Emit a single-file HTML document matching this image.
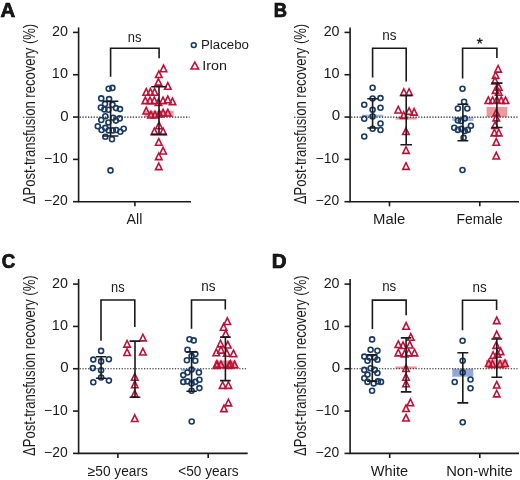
<!DOCTYPE html><html><head><meta charset="utf-8"><style>html,body{margin:0;padding:0;background:#fff;}svg{display:block;will-change:transform;}text{font-family:"Liberation Sans", sans-serif;fill:#1a1a1a;}</style></head><body>
<svg width="520" height="480" viewBox="0 0 520 480">
<rect width="520" height="480" fill="#fff"/>
<rect x="144.50" y="110.80" width="29.00" height="6.25" fill="#ec9a9c"/>
<line x1="79.60" y1="117.05" x2="189.50" y2="117.05" stroke="#222" stroke-width="1.2" stroke-dasharray="1.3 1.5"/>
<g fill="none" stroke="#183a62" stroke-width="1.6">
<circle cx="108.70" cy="88.75" r="2.5"/>
<circle cx="112.40" cy="87.90" r="2.5"/>
<circle cx="101.25" cy="98.40" r="2.5"/>
<circle cx="109.10" cy="99.10" r="2.5"/>
<circle cx="105.00" cy="104.00" r="2.5"/>
<circle cx="112.50" cy="104.70" r="2.5"/>
<circle cx="100.90" cy="107.50" r="2.5"/>
<circle cx="104.40" cy="109.40" r="2.5"/>
<circle cx="108.40" cy="109.70" r="2.5"/>
<circle cx="115.90" cy="108.10" r="2.5"/>
<circle cx="120.00" cy="109.10" r="2.5"/>
<circle cx="105.30" cy="116.25" r="2.5"/>
<circle cx="101.25" cy="120.00" r="2.5"/>
<circle cx="108.40" cy="122.50" r="2.5"/>
<circle cx="113.10" cy="117.80" r="2.5"/>
<circle cx="115.90" cy="120.60" r="2.5"/>
<circle cx="119.70" cy="118.40" r="2.5"/>
<circle cx="97.80" cy="126.25" r="2.5"/>
<circle cx="101.60" cy="130.00" r="2.5"/>
<circle cx="105.30" cy="127.90" r="2.5"/>
<circle cx="108.70" cy="130.40" r="2.5"/>
<circle cx="112.80" cy="130.40" r="2.5"/>
<circle cx="116.20" cy="130.00" r="2.5"/>
<circle cx="120.30" cy="131.70" r="2.5"/>
<circle cx="123.70" cy="128.75" r="2.5"/>
<circle cx="105.30" cy="136.70" r="2.5"/>
<circle cx="112.00" cy="139.20" r="2.5"/>
<circle cx="110.50" cy="170.40" r="2.5"/>
</g>
<g fill="none" stroke="#bb1138" stroke-width="1.6">
<path d="M163.50 65.15L166.75 71.75L160.25 71.75Z"/>
<path d="M158.80 70.95L162.05 77.55L155.55 77.55Z"/>
<path d="M158.40 78.55L161.65 85.15L155.15 85.15Z"/>
<path d="M167.80 82.65L171.05 89.25L164.55 89.25Z"/>
<path d="M146.25 88.65L149.50 95.25L143.00 95.25Z"/>
<path d="M150.40 88.65L153.65 95.25L147.15 95.25Z"/>
<path d="M154.60 88.65L157.85 95.25L151.35 95.25Z"/>
<path d="M145.30 97.05L148.55 103.65L142.05 103.65Z"/>
<path d="M150.00 97.05L153.25 103.65L146.75 103.65Z"/>
<path d="M154.30 97.05L157.55 103.65L151.05 103.65Z"/>
<path d="M158.40 98.95L161.65 105.55L155.15 105.55Z"/>
<path d="M163.00 97.05L166.25 103.65L159.75 103.65Z"/>
<path d="M167.80 96.15L171.05 102.75L164.55 102.75Z"/>
<path d="M172.50 98.05L175.75 104.65L169.25 104.65Z"/>
<path d="M146.25 107.35L149.50 113.95L143.00 113.95Z"/>
<path d="M151.00 111.35L154.25 117.95L147.75 117.95Z"/>
<path d="M155.00 111.35L158.25 117.95L151.75 117.95Z"/>
<path d="M159.40 110.35L162.65 116.95L156.15 116.95Z"/>
<path d="M163.10 109.35L166.35 115.95L159.85 115.95Z"/>
<path d="M167.80 109.35L171.05 115.95L164.55 115.95Z"/>
<path d="M159.00 122.15L162.25 128.75L155.75 128.75Z"/>
<path d="M154.40 128.00L157.65 134.60L151.15 134.60Z"/>
<path d="M163.10 128.00L166.35 134.60L159.85 134.60Z"/>
<path d="M158.75 138.65L162.00 145.25L155.50 145.25Z"/>
<path d="M163.10 147.35L166.35 153.95L159.85 153.95Z"/>
<path d="M158.75 153.00L162.00 159.60L155.50 159.60Z"/>
<path d="M158.75 163.00L162.00 169.60L155.50 169.60Z"/>
</g>
<g stroke="#1a1a1a" stroke-width="1.6" fill="none">
<path d="M110.60 101.30V136.00M102.80 101.30H118.40M102.80 136.00H118.40"/>
<path d="M159.00 86.70V134.40M151.20 86.70H166.80M151.20 134.40H166.80"/>
</g>
<g stroke="#1a1a1a" stroke-width="1.6" fill="none">
<path d="M78.60 27.40V201.70H191.00"/>
<path d="M73.00 32.40H78.60"/>
<path d="M73.00 74.72H78.60"/>
<path d="M73.00 117.05H78.60"/>
<path d="M73.00 159.38H78.60"/>
<path d="M73.00 201.70H78.60"/>
<path d="M134.90 201.70V206.30"/>
<path d="M110.60 76.80V48.30H159.10V58.20"/>
</g>
<rect x="362.00" y="114.60" width="21.20" height="2.45" fill="#a9badd"/>
<rect x="395.70" y="117.05" width="21.00" height="2.55" fill="#ec9a9c"/>
<rect x="452.30" y="117.05" width="21.20" height="3.95" fill="#a9badd"/>
<rect x="486.55" y="106.90" width="20.70" height="10.15" fill="#ec9a9c"/>
<line x1="351.10" y1="117.05" x2="517.50" y2="117.05" stroke="#222" stroke-width="1.2" stroke-dasharray="1.3 1.5"/>
<g fill="none" stroke="#183a62" stroke-width="1.6">
<circle cx="372.60" cy="87.75" r="2.5"/>
<circle cx="372.60" cy="98.50" r="2.5"/>
<circle cx="380.50" cy="98.10" r="2.5"/>
<circle cx="364.25" cy="104.75" r="2.5"/>
<circle cx="372.60" cy="109.75" r="2.5"/>
<circle cx="380.50" cy="107.75" r="2.5"/>
<circle cx="372.60" cy="116.50" r="2.5"/>
<circle cx="364.25" cy="118.75" r="2.5"/>
<circle cx="380.50" cy="123.50" r="2.5"/>
<circle cx="372.60" cy="128.75" r="2.5"/>
<circle cx="380.50" cy="130.00" r="2.5"/>
<circle cx="364.25" cy="136.50" r="2.5"/>
</g>
<g fill="none" stroke="#bb1138" stroke-width="1.6">
<path d="M403.80 88.75L407.05 95.35L400.55 95.35Z"/>
<path d="M409.10 88.75L412.35 95.35L405.85 95.35Z"/>
<path d="M398.25 106.35L401.50 112.95L395.00 112.95Z"/>
<path d="M403.70 111.75L406.95 118.35L400.45 118.35Z"/>
<path d="M409.10 107.75L412.35 114.35L405.85 114.35Z"/>
<path d="M414.10 108.55L417.35 115.15L410.85 115.15Z"/>
<path d="M405.90 127.95L409.15 134.55L402.65 134.55Z"/>
<path d="M406.00 146.75L409.25 153.35L402.75 153.35Z"/>
<path d="M406.00 162.75L409.25 169.35L402.75 169.35Z"/>
</g>
<g fill="none" stroke="#183a62" stroke-width="1.6">
<circle cx="462.50" cy="88.75" r="2.5"/>
<circle cx="464.10" cy="101.80" r="2.5"/>
<circle cx="457.90" cy="108.50" r="2.5"/>
<circle cx="467.30" cy="108.50" r="2.5"/>
<circle cx="457.90" cy="120.50" r="2.5"/>
<circle cx="461.00" cy="121.00" r="2.5"/>
<circle cx="464.70" cy="118.40" r="2.5"/>
<circle cx="454.25" cy="127.80" r="2.5"/>
<circle cx="457.90" cy="129.90" r="2.5"/>
<circle cx="461.50" cy="128.90" r="2.5"/>
<circle cx="464.70" cy="131.00" r="2.5"/>
<circle cx="467.80" cy="129.90" r="2.5"/>
<circle cx="470.90" cy="125.70" r="2.5"/>
<circle cx="463.60" cy="137.70" r="2.5"/>
<circle cx="462.50" cy="170.00" r="2.5"/>
</g>
<g fill="none" stroke="#bb1138" stroke-width="1.6">
<path d="M498.10 65.50L501.35 72.10L494.85 72.10Z"/>
<path d="M495.60 71.75L498.85 78.35L492.35 78.35Z"/>
<path d="M495.00 77.25L498.25 83.85L491.75 83.85Z"/>
<path d="M498.75 83.65L502.00 90.25L495.50 90.25Z"/>
<path d="M495.60 86.75L498.85 93.35L492.35 93.35Z"/>
<path d="M498.75 88.65L502.00 95.25L495.50 95.25Z"/>
<path d="M488.30 96.95L491.55 103.55L485.05 103.55Z"/>
<path d="M492.60 96.95L495.85 103.55L489.35 103.55Z"/>
<path d="M496.90 96.35L500.15 102.95L493.65 102.95Z"/>
<path d="M501.20 96.95L504.45 103.55L497.95 103.55Z"/>
<path d="M505.50 96.95L508.75 103.55L502.25 103.55Z"/>
<path d="M496.25 109.25L499.50 115.85L493.00 115.85Z"/>
<path d="M496.25 114.25L499.50 120.85L493.00 120.85Z"/>
<path d="M495.00 121.75L498.25 128.35L491.75 128.35Z"/>
<path d="M494.40 129.25L497.65 135.85L491.15 135.85Z"/>
<path d="M498.75 129.25L502.00 135.85L495.50 135.85Z"/>
<path d="M496.25 138.65L499.50 145.25L493.00 145.25Z"/>
<path d="M496.25 152.35L499.50 158.95L493.00 158.95Z"/>
</g>
<g stroke="#1a1a1a" stroke-width="1.6" fill="none">
<path d="M372.60 98.75V128.00M367.30 98.75H377.90M367.30 128.00H377.90"/>
<path d="M406.20 95.50V144.80M400.40 95.50H412.00M400.40 144.80H412.00"/>
<path d="M462.90 104.20V140.80M457.45 104.20H468.35M457.45 140.80H468.35"/>
<path d="M496.90 83.10V127.50M491.30 83.10H502.50M491.30 127.50H502.50"/>
</g>
<g stroke="#1a1a1a" stroke-width="1.6" fill="none">
<path d="M350.10 27.40V201.70H519.00"/>
<path d="M344.50 32.40H350.10"/>
<path d="M344.50 74.72H350.10"/>
<path d="M344.50 117.05H350.10"/>
<path d="M344.50 159.38H350.10"/>
<path d="M344.50 201.70H350.10"/>
<path d="M389.50 201.70V206.30"/>
<path d="M479.80 201.70V206.30"/>
<path d="M372.60 77.50V48.30H406.20V81.50"/>
<path d="M462.60 78.50V48.30H496.90V58.10"/>
</g>
<path d="M479.75 40.90L479.75 38.30M479.75 40.90L482.22 40.10M479.75 40.90L481.28 43.00M479.75 40.90L478.22 43.00M479.75 40.90L477.28 40.10" stroke="#1a1a1a" stroke-width="1.25" stroke-linecap="round"/>
<rect x="181.00" y="368.75" width="21.20" height="2.25" fill="#a9badd"/>
<rect x="214.65" y="360.50" width="21.50" height="8.25" fill="#ec9a9c"/>
<line x1="79.60" y1="368.75" x2="246.20" y2="368.75" stroke="#222" stroke-width="1.2" stroke-dasharray="1.3 1.5"/>
<g fill="none" stroke="#183a62" stroke-width="1.6">
<circle cx="101.10" cy="350.90" r="2.5"/>
<circle cx="93.30" cy="359.60" r="2.5"/>
<circle cx="101.10" cy="361.40" r="2.5"/>
<circle cx="108.90" cy="359.30" r="2.5"/>
<circle cx="92.80" cy="368.10" r="2.5"/>
<circle cx="101.10" cy="370.20" r="2.5"/>
<circle cx="101.10" cy="377.50" r="2.5"/>
<circle cx="93.30" cy="382.20" r="2.5"/>
<circle cx="108.90" cy="380.60" r="2.5"/>
</g>
<g fill="none" stroke="#bb1138" stroke-width="1.6">
<path d="M142.90 334.25L146.15 340.85L139.65 340.85Z"/>
<path d="M127.10 340.50L130.35 347.10L123.85 347.10Z"/>
<path d="M127.10 348.85L130.35 355.45L123.85 355.45Z"/>
<path d="M142.90 348.35L146.15 354.95L139.65 354.95Z"/>
<path d="M134.75 373.65L138.00 380.25L131.50 380.25Z"/>
<path d="M134.75 381.15L138.00 387.75L131.50 387.75Z"/>
<path d="M134.75 390.25L138.00 396.85L131.50 396.85Z"/>
<path d="M134.75 414.85L138.00 421.45L131.50 421.45Z"/>
</g>
<g fill="none" stroke="#183a62" stroke-width="1.6">
<circle cx="189.50" cy="339.20" r="2.5"/>
<circle cx="193.70" cy="340.40" r="2.5"/>
<circle cx="187.50" cy="349.80" r="2.5"/>
<circle cx="191.60" cy="356.00" r="2.5"/>
<circle cx="195.30" cy="354.00" r="2.5"/>
<circle cx="186.90" cy="360.20" r="2.5"/>
<circle cx="195.30" cy="360.70" r="2.5"/>
<circle cx="191.60" cy="369.60" r="2.5"/>
<circle cx="187.50" cy="372.50" r="2.5"/>
<circle cx="183.30" cy="375.10" r="2.5"/>
<circle cx="198.90" cy="372.50" r="2.5"/>
<circle cx="183.30" cy="381.90" r="2.5"/>
<circle cx="187.50" cy="381.40" r="2.5"/>
<circle cx="191.60" cy="383.40" r="2.5"/>
<circle cx="195.30" cy="381.90" r="2.5"/>
<circle cx="199.40" cy="379.80" r="2.5"/>
<circle cx="199.40" cy="388.10" r="2.5"/>
<circle cx="191.60" cy="390.70" r="2.5"/>
<circle cx="191.70" cy="421.50" r="2.5"/>
</g>
<g fill="none" stroke="#bb1138" stroke-width="1.6">
<path d="M227.30 317.85L230.55 324.45L224.05 324.45Z"/>
<path d="M223.60 323.65L226.85 330.25L220.35 330.25Z"/>
<path d="M225.70 330.35L228.95 336.95L222.45 336.95Z"/>
<path d="M220.50 340.25L223.75 346.85L217.25 346.85Z"/>
<path d="M227.80 341.35L231.05 347.95L224.55 347.95Z"/>
<path d="M216.30 349.15L219.55 355.75L213.05 355.75Z"/>
<path d="M221.00 346.55L224.25 353.15L217.75 353.15Z"/>
<path d="M226.75 349.65L230.00 356.25L223.50 356.25Z"/>
<path d="M233.50 350.15L236.75 356.75L230.25 356.75Z"/>
<path d="M216.90 360.55L220.15 367.15L213.65 367.15Z"/>
<path d="M221.00 361.15L224.25 367.75L217.75 367.75Z"/>
<path d="M230.40 360.55L233.65 367.15L227.15 367.15Z"/>
<path d="M234.60 361.15L237.85 367.75L231.35 367.75Z"/>
<path d="M216.75 361.75L220.00 368.35L213.50 368.35Z"/>
<path d="M229.10 361.75L232.35 368.35L225.85 368.35Z"/>
<path d="M222.60 381.75L225.85 388.35L219.35 388.35Z"/>
<path d="M228.40 381.75L231.65 388.35L225.15 388.35Z"/>
<path d="M228.40 399.25L231.65 405.85L225.15 405.85Z"/>
<path d="M224.00 405.05L227.25 411.65L220.75 411.65Z"/>
</g>
<g stroke="#1a1a1a" stroke-width="1.6" fill="none">
<path d="M101.10 356.70V378.30M95.90 356.70H106.30M95.90 378.30H106.30"/>
<path d="M135.00 341.10V397.25M129.60 341.10H140.40M129.60 397.25H140.40"/>
<path d="M191.60 351.90V391.25M186.40 351.90H196.80M186.40 391.25H196.80"/>
<path d="M225.40 337.10V380.60M220.10 337.10H230.70M220.10 380.60H230.70"/>
</g>
<g stroke="#1a1a1a" stroke-width="1.6" fill="none">
<path d="M78.60 279.10V453.40H247.70"/>
<path d="M73.00 284.10H78.60"/>
<path d="M73.00 326.43H78.60"/>
<path d="M73.00 368.75H78.60"/>
<path d="M73.00 411.07H78.60"/>
<path d="M73.00 453.40H78.60"/>
<path d="M117.90 453.40V458.00"/>
<path d="M208.20 453.40V458.00"/>
<path d="M101.00 340.80V300.00H134.80V327.00"/>
<path d="M191.50 328.80V300.00H225.30V309.40"/>
</g>
<rect x="395.50" y="366.40" width="21.20" height="2.35" fill="#ec9a9c"/>
<rect x="452.30" y="368.75" width="21.00" height="7.95" fill="#93a8d2"/>
<rect x="486.00" y="359.80" width="21.60" height="8.95" fill="#ec9a9c"/>
<line x1="351.10" y1="368.75" x2="517.50" y2="368.75" stroke="#222" stroke-width="1.2" stroke-dasharray="1.3 1.5"/>
<g fill="none" stroke="#183a62" stroke-width="1.6">
<circle cx="372.10" cy="339.40" r="2.5"/>
<circle cx="370.60" cy="349.80" r="2.5"/>
<circle cx="377.40" cy="350.80" r="2.5"/>
<circle cx="364.30" cy="356.60" r="2.5"/>
<circle cx="369.50" cy="357.60" r="2.5"/>
<circle cx="374.75" cy="357.60" r="2.5"/>
<circle cx="367.50" cy="360.70" r="2.5"/>
<circle cx="377.40" cy="359.70" r="2.5"/>
<circle cx="364.30" cy="369.90" r="2.5"/>
<circle cx="370.60" cy="368.30" r="2.5"/>
<circle cx="374.75" cy="369.90" r="2.5"/>
<circle cx="367.50" cy="374.60" r="2.5"/>
<circle cx="377.40" cy="373.00" r="2.5"/>
<circle cx="364.30" cy="378.20" r="2.5"/>
<circle cx="367.50" cy="381.90" r="2.5"/>
<circle cx="373.70" cy="383.40" r="2.5"/>
<circle cx="377.90" cy="381.40" r="2.5"/>
<circle cx="381.00" cy="381.90" r="2.5"/>
<circle cx="372.10" cy="390.70" r="2.5"/>
</g>
<g fill="none" stroke="#bb1138" stroke-width="1.6">
<path d="M406.10 322.65L409.35 329.25L402.85 329.25Z"/>
<path d="M410.80 333.65L414.05 340.25L407.55 340.25Z"/>
<path d="M398.30 340.95L401.55 347.55L395.05 347.55Z"/>
<path d="M403.00 341.95L406.25 348.55L399.75 348.55Z"/>
<path d="M409.80 341.45L413.05 348.05L406.55 348.05Z"/>
<path d="M398.30 349.25L401.55 355.85L395.05 355.85Z"/>
<path d="M404.60 350.25L407.85 356.85L401.35 356.85Z"/>
<path d="M408.75 349.25L412.00 355.85L405.50 355.85Z"/>
<path d="M414.50 349.25L417.75 355.85L411.25 355.85Z"/>
<path d="M406.00 364.85L409.25 371.45L402.75 371.45Z"/>
<path d="M406.00 373.65L409.25 380.25L402.75 380.25Z"/>
<path d="M406.00 380.15L409.25 386.75L402.75 386.75Z"/>
<path d="M410.40 399.15L413.65 405.75L407.15 405.75Z"/>
<path d="M406.00 404.95L409.25 411.55L402.75 411.55Z"/>
<path d="M406.00 414.45L409.25 421.05L402.75 421.05Z"/>
</g>
<g fill="none" stroke="#183a62" stroke-width="1.6">
<circle cx="462.60" cy="340.70" r="2.5"/>
<circle cx="462.70" cy="360.80" r="2.5"/>
<circle cx="462.70" cy="372.50" r="2.5"/>
<circle cx="454.70" cy="382.00" r="2.5"/>
<circle cx="470.50" cy="379.50" r="2.5"/>
<circle cx="470.50" cy="388.30" r="2.5"/>
<circle cx="462.75" cy="422.25" r="2.5"/>
</g>
<g fill="none" stroke="#bb1138" stroke-width="1.6">
<path d="M496.70 317.05L499.95 323.65L493.45 323.65Z"/>
<path d="M496.70 331.15L499.95 337.75L493.45 337.75Z"/>
<path d="M496.25 341.75L499.50 348.35L493.00 348.35Z"/>
<path d="M500.60 348.00L503.85 354.60L497.35 354.60Z"/>
<path d="M493.10 351.75L496.35 358.35L489.85 358.35Z"/>
<path d="M497.50 350.50L500.75 357.10L494.25 357.10Z"/>
<path d="M488.75 359.85L492.00 366.45L485.50 366.45Z"/>
<path d="M492.50 360.50L495.75 367.10L489.25 367.10Z"/>
<path d="M500.00 360.50L503.25 367.10L496.75 367.10Z"/>
<path d="M505.00 359.85L508.25 366.45L501.75 366.45Z"/>
<path d="M496.70 381.45L499.95 388.05L493.45 388.05Z"/>
<path d="M496.70 390.25L499.95 396.85L493.45 396.85Z"/>
</g>
<g stroke="#1a1a1a" stroke-width="1.6" fill="none">
<path d="M372.30 354.70V381.10M367.10 354.70H377.50M367.10 381.10H377.50"/>
<path d="M406.10 337.90V391.90M400.80 337.90H411.40M400.80 391.90H411.40"/>
<path d="M462.80 352.80V402.90M457.35 352.80H468.25M457.35 402.90H468.25"/>
<path d="M496.80 339.00V377.20M491.40 339.00H502.20M491.40 377.20H502.20"/>
</g>
<g stroke="#1a1a1a" stroke-width="1.6" fill="none">
<path d="M350.10 279.10V453.40H519.00"/>
<path d="M344.50 284.10H350.10"/>
<path d="M344.50 326.43H350.10"/>
<path d="M344.50 368.75H350.10"/>
<path d="M344.50 411.07H350.10"/>
<path d="M344.50 453.40H350.10"/>
<path d="M389.70 453.40V458.00"/>
<path d="M479.80 453.40V458.00"/>
<path d="M372.40 328.90V300.10H406.15V315.20"/>
<path d="M462.50 330.20V300.20H496.60V310.00"/>
</g>
<text x="0.57" y="16.77" font-size="19.50" font-weight="bold" textLength="14.71" lengthAdjust="spacingAndGlyphs" fill="#000" stroke="#000" stroke-width="0.7">A</text>
<text x="273.68" y="16.77" font-size="19.50" font-weight="bold" textLength="13.27" lengthAdjust="spacingAndGlyphs" fill="#000" stroke="#000" stroke-width="0.7">B</text>
<text x="1.80" y="268.45" font-size="19.50" font-weight="bold" textLength="13.48" lengthAdjust="spacingAndGlyphs" fill="#000" stroke="#000" stroke-width="0.7">C</text>
<text x="271.65" y="268.45" font-size="19.50" font-weight="bold" textLength="14.79" lengthAdjust="spacingAndGlyphs" fill="#000" stroke="#000" stroke-width="0.7">D</text>
<text x="52.12" y="36.30" font-size="13.90" textLength="15.92" lengthAdjust="spacingAndGlyphs">20</text>
<text x="51.88" y="78.22" font-size="13.90" textLength="16.02" lengthAdjust="spacingAndGlyphs">10</text>
<text x="60.17" y="121.13" font-size="13.90" textLength="8.38" lengthAdjust="spacingAndGlyphs">0</text>
<text x="44.11" y="163.27" font-size="13.90" textLength="23.61" lengthAdjust="spacingAndGlyphs">−10</text>
<text x="44.11" y="205.20" font-size="13.90" textLength="23.61" lengthAdjust="spacingAndGlyphs">−20</text>
<text transform="translate(34.60,204.22) rotate(-90)" font-size="16.30" textLength="180.44" lengthAdjust="spacingAndGlyphs">ΔPost-transfusion recovery (%)</text>
<text x="323.69" y="36.30" font-size="13.90" textLength="15.85" lengthAdjust="spacingAndGlyphs">20</text>
<text x="323.48" y="78.22" font-size="13.90" textLength="16.03" lengthAdjust="spacingAndGlyphs">10</text>
<text x="331.71" y="120.39" font-size="13.90" textLength="8.41" lengthAdjust="spacingAndGlyphs">0</text>
<text x="315.62" y="163.27" font-size="13.90" textLength="23.51" lengthAdjust="spacingAndGlyphs">−10</text>
<text x="315.62" y="205.20" font-size="13.90" textLength="23.51" lengthAdjust="spacingAndGlyphs">−20</text>
<text transform="translate(306.10,204.22) rotate(-90)" font-size="16.30" textLength="180.44" lengthAdjust="spacingAndGlyphs">ΔPost-transfusion recovery (%)</text>
<text x="52.12" y="288.40" font-size="13.90" textLength="15.92" lengthAdjust="spacingAndGlyphs">20</text>
<text x="51.88" y="330.32" font-size="13.90" textLength="16.02" lengthAdjust="spacingAndGlyphs">10</text>
<text x="60.17" y="372.43" font-size="13.90" textLength="8.38" lengthAdjust="spacingAndGlyphs">0</text>
<text x="44.11" y="414.57" font-size="13.90" textLength="23.61" lengthAdjust="spacingAndGlyphs">−10</text>
<text x="44.11" y="457.30" font-size="13.90" textLength="23.61" lengthAdjust="spacingAndGlyphs">−20</text>
<text transform="translate(34.60,455.90) rotate(-90)" font-size="16.30" textLength="180.48" lengthAdjust="spacingAndGlyphs">ΔPost-transfusion recovery (%)</text>
<text x="323.69" y="288.40" font-size="13.90" textLength="15.85" lengthAdjust="spacingAndGlyphs">20</text>
<text x="323.48" y="330.32" font-size="13.90" textLength="16.03" lengthAdjust="spacingAndGlyphs">10</text>
<text x="331.71" y="372.49" font-size="13.90" textLength="8.41" lengthAdjust="spacingAndGlyphs">0</text>
<text x="315.62" y="414.57" font-size="13.90" textLength="23.51" lengthAdjust="spacingAndGlyphs">−10</text>
<text x="315.62" y="457.30" font-size="13.90" textLength="23.51" lengthAdjust="spacingAndGlyphs">−20</text>
<text transform="translate(306.10,455.90) rotate(-90)" font-size="16.30" textLength="180.48" lengthAdjust="spacingAndGlyphs">ΔPost-transfusion recovery (%)</text>
<text x="126.64" y="223.70" font-size="14.00" textLength="15.78" lengthAdjust="spacingAndGlyphs">All</text>
<text x="373.10" y="223.70" font-size="14.00" textLength="32.25" lengthAdjust="spacingAndGlyphs">Male</text>
<text x="456.42" y="223.70" font-size="14.00" textLength="46.42" lengthAdjust="spacingAndGlyphs">Female</text>
<text x="87.84" y="475.80" font-size="14.00" textLength="60.01" lengthAdjust="spacingAndGlyphs">≥50 years</text>
<text x="178.22" y="475.80" font-size="14.00" textLength="60.29" lengthAdjust="spacingAndGlyphs"><50 years</text>
<text x="370.86" y="475.80" font-size="14.00" textLength="37.23" lengthAdjust="spacingAndGlyphs">White</text>
<text x="446.17" y="475.80" font-size="14.00" textLength="66.61" lengthAdjust="spacingAndGlyphs">Non-white</text>
<text x="127.85" y="41.50" font-size="14.00" textLength="13.64" lengthAdjust="spacingAndGlyphs">ns</text>
<text x="382.15" y="40.00" font-size="14.00" textLength="14.25" lengthAdjust="spacingAndGlyphs">ns</text>
<text x="111.07" y="291.61" font-size="14.00" textLength="13.56" lengthAdjust="spacingAndGlyphs">ns</text>
<text x="201.35" y="291.45" font-size="14.00" textLength="14.29" lengthAdjust="spacingAndGlyphs">ns</text>
<text x="382.14" y="291.10" font-size="14.00" textLength="14.07" lengthAdjust="spacingAndGlyphs">ns</text>
<text x="472.54" y="291.55" font-size="14.00" textLength="14.19" lengthAdjust="spacingAndGlyphs">ns</text>
<text x="201.03" y="48.80" font-size="12.50" textLength="47.95" lengthAdjust="spacingAndGlyphs">Placebo</text>
<text x="202.16" y="69.70" font-size="12.50" textLength="24.75" lengthAdjust="spacingAndGlyphs">Iron</text>
<circle cx="193.75" cy="45.1" r="2.45" fill="none" stroke="#183a62" stroke-width="1.5"/>
<path d="M194.8 62.2L198.6 69.0L191.0 69.0Z" fill="none" stroke="#bb1138" stroke-width="1.55"/>
</svg></body></html>
